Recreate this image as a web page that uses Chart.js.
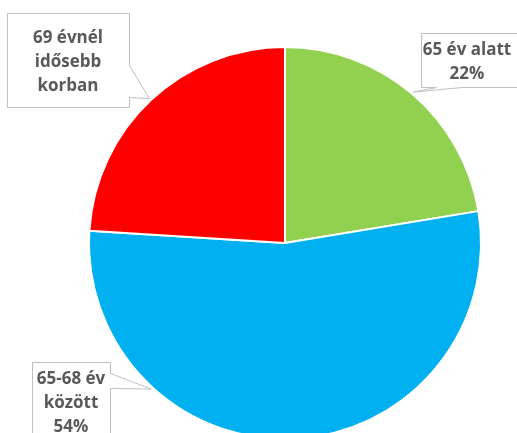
<!DOCTYPE html>
<html>
<head>
<meta charset="utf-8">
<script src="https://cdn.jsdelivr.net/npm/chart.js@4"></script>
<style>
  html, body { margin:0; padding:0; background:#fff; overflow:hidden; }
  #wrap { width:517px; height:486px; position:relative; }
</style>
</head>
<body>
<div id="wrap"><canvas id="chart"></canvas></div>
<script>
// adatok
const categories = ['65 év alatt', '65-68 év között', '69 évnél idősebb korban'];
const values = [22.4, 53.6, 24.0];
const colors = ['#92D050', '#00B0F0', '#FF0000'];
// címke sorok (a százalék a values-ból jön, ha showPct)
const labelLines = [['65 év alatt'], ['65-68 év', 'között'], ['69 évnél', 'idősebb', 'korban']];
const showPct = [true, true, false];

// callout dobozok elhelyezése
const boxes = [
  { x:421, y:33, w:100, h:54, side:'bottom', wa:436, wb:462, frac:0.5, ty:50, cx:467 },
  { x:32, y:362, w:78, h:90, side:'right', wa:373, wb:388, frac:0.735, ty:379, cx:71 },
  { x:7, y:13, w:122, h:94, side:'right', wa:65, wb:97, frac:0.5, ty:38, cx:68 }
];

const calloutPlugin = {
  id: 'callouts',
  afterDatasetsDraw(chart){
    const ctx = chart.ctx;
    const meta = chart.getDatasetMeta(0);
    const total = values.reduce((a,b) => a + b, 0);
    meta.data.forEach((arc, i) => {
      const b = boxes[i];
      const ang = arc.startAngle + (arc.endAngle - arc.startAngle) * b.frac;
      const tx = arc.x + Math.cos(ang) * (arc.outerRadius + 2);
      const ty = arc.y + Math.sin(ang) * (arc.outerRadius + 2);
      ctx.save();
      ctx.beginPath();
      ctx.moveTo(b.x + 0.5, b.y + 0.5);
      ctx.lineTo(b.x + b.w + 0.5, b.y + 0.5);
      if (b.side === 'right') {
        ctx.lineTo(b.x + b.w + 0.5, b.wa + 0.5);
        ctx.lineTo(tx, ty);
        ctx.lineTo(b.x + b.w + 0.5, b.wb + 0.5);
        ctx.lineTo(b.x + b.w + 0.5, b.y + b.h + 0.5);
        ctx.lineTo(b.x + 0.5, b.y + b.h + 0.5);
      } else {
        ctx.lineTo(b.x + b.w + 0.5, b.y + b.h + 0.5);
        ctx.lineTo(b.wb + 0.5, b.y + b.h + 0.5);
        ctx.lineTo(tx, ty);
        ctx.lineTo(b.wa + 0.5, b.y + b.h + 0.5);
        ctx.lineTo(b.x + 0.5, b.y + b.h + 0.5);
      }
      ctx.closePath();
      ctx.fillStyle = '#fff';
      ctx.fill();
      ctx.strokeStyle = '#bfbfbf';
      ctx.lineWidth = 1;
      ctx.stroke();

      const lines = labelLines[i].slice();
      if (showPct[i]) lines.push(Math.round(values[i] / total * 100) + '%');
      ctx.fillStyle = '#595959';
      ctx.font = 'bold 17px "Open Sans"';
      ctx.textAlign = 'center';
      ctx.textBaseline = 'middle';
      lines.forEach((t, k) => ctx.fillText(t, b.cx, b.ty + k * 24));
      ctx.restore();
    });
  }
};

new Chart(document.getElementById('chart'), {
  type: 'pie',
  data: {
    labels: categories,
    datasets: [{
      data: values,
      backgroundColor: colors,
      borderColor: '#ffffff',
      borderWidth: 2
    }]
  },
  options: {
    responsive: true,
    maintainAspectRatio: false,
    animation: false,
    radius: 196,
    layout: { padding: { left: 53, right: 0, top: 0, bottom: 0 } },
    plugins: { legend: { display: false }, tooltip: { enabled: false } }
  },
  plugins: [calloutPlugin]
});
</script>
</body>
</html>
